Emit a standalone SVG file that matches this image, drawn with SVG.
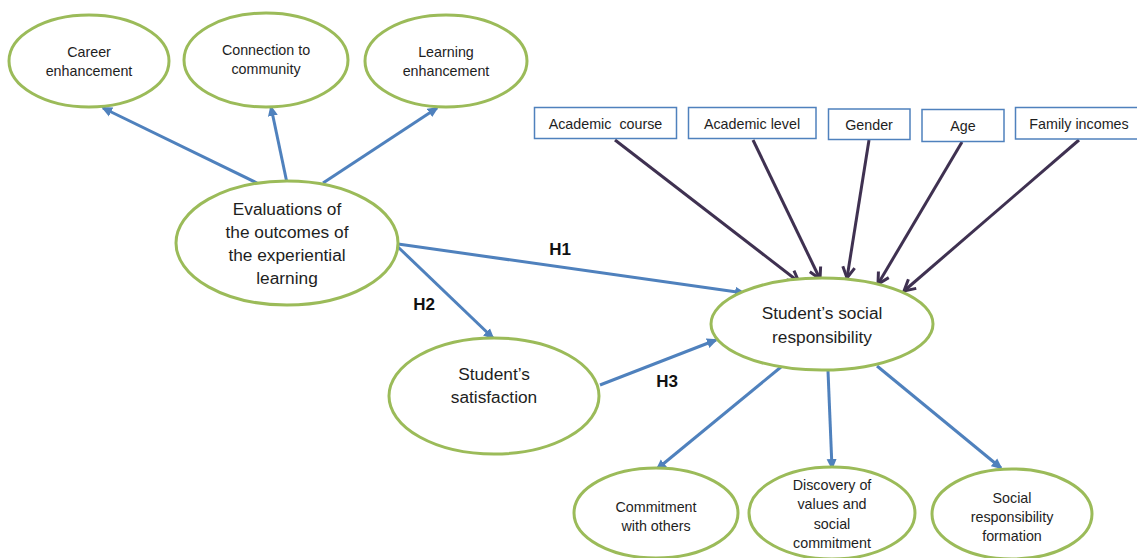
<svg xmlns="http://www.w3.org/2000/svg" width="1137" height="558" viewBox="0 0 1137 558">
<style>
.ell{fill:#fff;stroke:#9BBB59;stroke-width:3}
.box{fill:#fff;stroke:#4F81BD;stroke-width:1.5}
.t{font-family:"Liberation Sans",Arial,sans-serif;fill:#1e1e1e;text-anchor:middle}
.s{font-size:14.3px}
.m{font-size:17.3px}
.h{font-family:"Liberation Sans",Arial,sans-serif;font-weight:bold;font-size:17px;fill:#111;text-anchor:middle}
.b{stroke:#4F81BD;stroke-width:3;fill:none;marker-end:url(#ab)}
.p{stroke:#3F3151;stroke-width:3;fill:none;marker-end:url(#ap)}
</style>
<defs>
<marker id="ab" markerUnits="userSpaceOnUse" viewBox="0 0 12 12" refX="9" refY="6" markerWidth="12" markerHeight="12" orient="auto">
<path d="M0,1 L11,6 L0,11 z" fill="#4F81BD"/>
</marker>
<marker id="ap" markerUnits="userSpaceOnUse" viewBox="0 0 16 16" refX="13" refY="8" markerWidth="16" markerHeight="16" orient="auto">
<path d="M2,2 L13,8 L2,14" fill="none" stroke="#3F3151" stroke-width="3" stroke-linejoin="miter"/>
</marker>
</defs>
<rect width="1137" height="558" fill="#fff"/>
<g id="connectors">
<line class="b" x1="257" y1="183" x2="103" y2="108"/>
<line class="b" x1="287" y1="183" x2="271" y2="107"/>
<line class="b" x1="323" y1="183" x2="437" y2="108"/>
<line class="b" x1="398" y1="244" x2="744" y2="293"/>
<line class="b" x1="398" y1="247" x2="493" y2="338"/>
<line class="b" x1="600" y1="385" x2="716" y2="340"/>
<line class="b" x1="781" y1="367" x2="657" y2="469"/>
<line class="b" x1="828" y1="371" x2="832" y2="468"/>
<line class="b" x1="877" y1="366" x2="1001" y2="468"/>
<line class="p" x1="615" y1="140" x2="799" y2="282"/>
<line class="p" x1="753" y1="140" x2="820" y2="279"/>
<line class="p" x1="869" y1="140" x2="847" y2="278"/>
<line class="p" x1="962" y1="142" x2="878" y2="284"/>
<line class="p" x1="1079" y1="140" x2="904" y2="291"/>
<text class="h" x="560" y="255">H1</text>
<text class="h" x="424" y="310">H2</text>
<text class="h" x="667" y="387">H3</text>
</g>
<g id="career">
<ellipse class="ell" cx="89" cy="61" rx="80" ry="46"/>
<text class="t s" x="89" y="57">Career</text>
<text class="t s" x="89" y="76">enhancement</text>
</g>
<g id="connection">
<ellipse class="ell" cx="266" cy="60" rx="82" ry="47"/>
<text class="t s" x="266" y="55">Connection to</text>
<text class="t s" x="266" y="74">community</text>
</g>
<g id="learning">
<ellipse class="ell" cx="446" cy="61" rx="81" ry="46"/>
<text class="t s" x="446" y="57">Learning</text>
<text class="t s" x="446" y="76">enhancement</text>
</g>
<g id="evaluations">
<ellipse class="ell" cx="287" cy="243" rx="111" ry="62"/>
<text class="t m" x="287" y="215">Evaluations of</text>
<text class="t m" x="287" y="238">the outcomes of</text>
<text class="t m" x="287" y="261">the experiential</text>
<text class="t m" x="287" y="284">learning</text>
</g>
<g id="satisfaction">
<ellipse class="ell" cx="494" cy="396" rx="105" ry="58"/>
<text class="t m" x="494" y="380">Student’s</text>
<text class="t m" x="494" y="403">satisfaction</text>
</g>
<g id="social">
<ellipse class="ell" cx="822" cy="324" rx="111" ry="46"/>
<text class="t m" x="822" y="319">Student’s social</text>
<text class="t m" x="822" y="343">responsibility</text>
</g>
<g id="commitment">
<ellipse class="ell" cx="656" cy="513" rx="82" ry="45"/>
<text class="t s" x="656" y="512">Commitment</text>
<text class="t s" x="656" y="531">with others</text>
</g>
<g id="discovery">
<ellipse class="ell" cx="832" cy="513" rx="83" ry="46"/>
<text class="t s" x="832" y="490">Discovery of</text>
<text class="t s" x="832" y="509">values and</text>
<text class="t s" x="832" y="529">social</text>
<text class="t s" x="832" y="548">commitment</text>
</g>
<g id="formation">
<ellipse class="ell" cx="1012" cy="514" rx="80" ry="45"/>
<text class="t s" x="1012" y="503">Social</text>
<text class="t s" x="1012" y="522">responsibility</text>
<text class="t s" x="1012" y="541">formation</text>
</g>
<g id="academic-course">
<rect class="box" x="534.5" y="107.5" width="142" height="31"/>
<text class="t s" x="605.5" y="129" style="white-space:pre" xml:space="preserve">Academic  course</text>
</g>
<g id="academic-level">
<rect class="box" x="688.5" y="107.5" width="127.5" height="31"/>
<text class="t s" x="752" y="129">Academic level</text>
</g>
<g id="gender">
<rect class="box" x="828.5" y="109" width="81.5" height="30.5"/>
<text class="t s" x="869" y="130">Gender</text>
</g>
<g id="age">
<rect class="box" x="922" y="109.5" width="82" height="32"/>
<text class="t s" x="963" y="131">Age</text>
</g>
<g id="family-incomes">
<rect class="box" x="1015.5" y="107.5" width="125" height="31.5"/>
<text class="t s" x="1079" y="129">Family incomes</text>
</g>
</svg>
